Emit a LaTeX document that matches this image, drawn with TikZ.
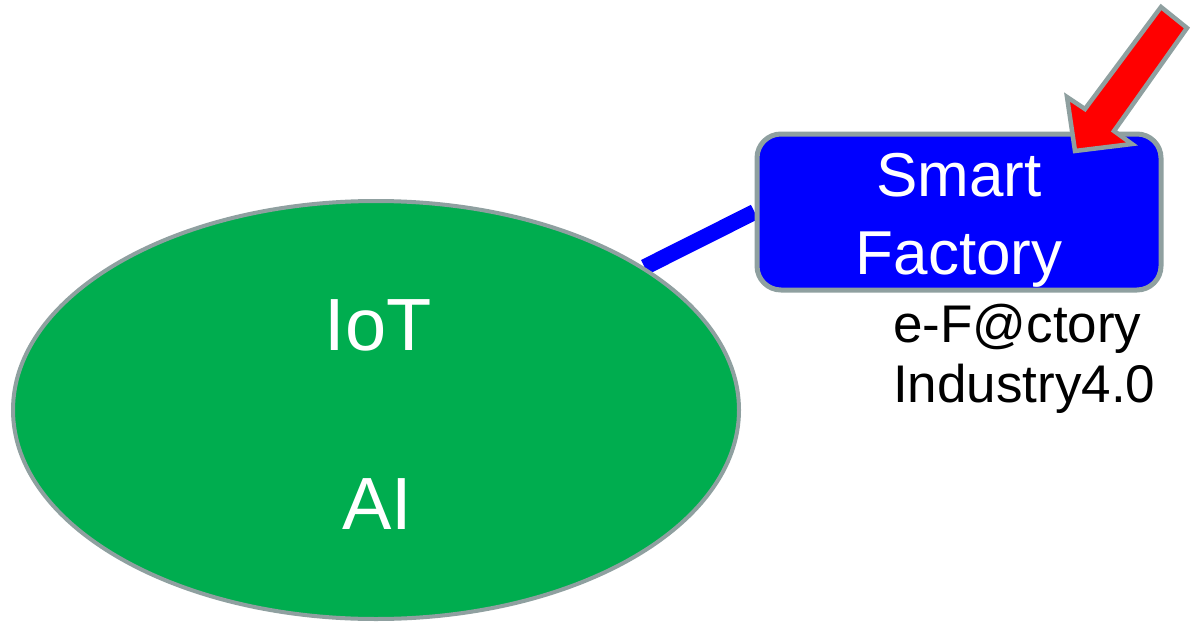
\documentclass[tikz,border=0pt]{standalone}
\usepackage{fontspec}
\setmainfont{Liberation Sans}
\usetikzlibrary{shapes.geometric,backgrounds}
\definecolor{rim}{HTML}{8FA0A0}
\definecolor{leaf}{HTML}{00AD4F}
\definecolor{pure}{HTML}{0000FF}
\tikzset{
  blob/.style={ellipse, draw=rim, line width=4pt, fill=leaf, minimum width=726pt, minimum height=418pt, inner sep=0pt},
  bigw/.style={text=white, font=\fontsize{74}{80}\selectfont, inner sep=0pt, anchor=base},
  fbox/.style={draw=rim, line width=5pt, fill=pure, rounded corners=24pt, minimum width=404pt, minimum height=156pt, inner sep=0pt},
  ftext/.style={text=white, align=center, font=\fontsize{62}{78}\selectfont, inner sep=0pt},
  note/.style={font=\fontsize{53}{60}\selectfont, inner sep=0pt, anchor=base west},
  link/.style={draw=pure, line width=16pt},
  pointer/.style={draw=rim, line width=4.5pt, fill=red, line join=miter}
}
\begin{document}
\begin{tikzpicture}[x=1pt,y=-1pt]
\useasboundingbox (0,0) rectangle (1193,623);
\node[blob] (ell) at (376,410) {};
\node[fbox] (box) at (959,212) {};
\begin{pgfonlayer}{background}
\draw[link] (ell.28) -- (box.west);
\end{pgfonlayer}
\node[bigw] (iot) at (378,350) {IoT};
\node[bigw] (ai) at (377,529) {AI};
\node[ftext, yshift=-8pt] (boxtext) at (box.center) {Smart\\Factory};
\node[note] (n1) at (893,342) {e-F@ctory};
\node[note] (n2) at (893,402) {Industry4.0};
\draw[pointer] (1161,7) -- (1187,28) -- (1114,131) -- (1132,144) -- (1075,151) -- (1067,97) -- (1085,109) -- cycle;
\end{tikzpicture}
\end{document}
